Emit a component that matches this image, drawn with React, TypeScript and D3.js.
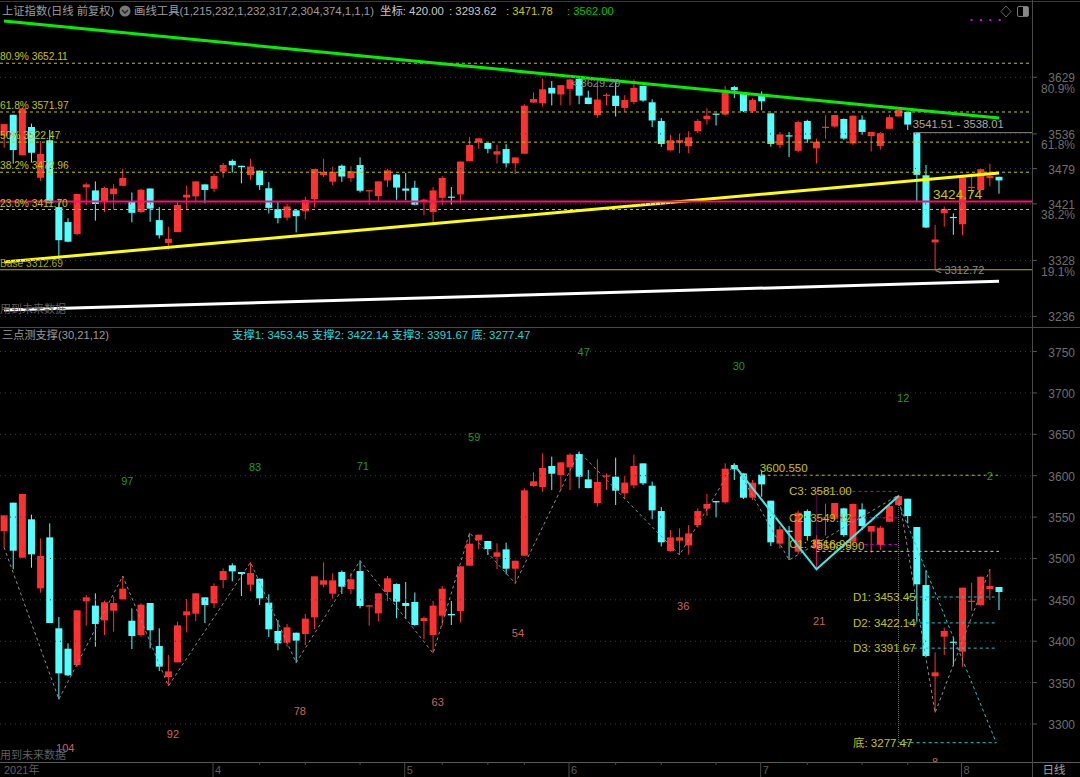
import { useEffect, useRef } from "react"
import * as d3 from "d3"

// candles (index points)
const opens = [3533.2,3567.4,3500.9,3547.3,3463.9,3525.5,3415.6,3391,3371.3,3448.2,3443,3425.2,3436.9,3450.6,3424.8,3407.5,3446.2,3394.2,3356.8,3374.5,3431.3,3433.3,3453,3445.8,3474,3491.7,3483.6,3468.3,3475.6,3446.6,3412.4,3398.3,3410.3,3408.7,3428.9,3468.3,3457.5,3483.6,3463.1,3484.8,3441.8,3433.7,3459.5,3469.1,3446.2,3447.4,3424.4,3407.5,3430.9,3432.9,3436.5,3491.3,3521.9,3521.1,3502.1,3511,3487.6,3503.4,3587.5,3586.3,3611.7,3600.8,3610,3626.2,3595.6,3567,3598.8,3598.8,3578.7,3588.3,3614.9,3587.9,3557.3,3509,3521.5,3515.8,3540.4,3560.1,3569.4,3567.8,3612.9,3602.8,3573.4,3601.2,3569.8,3517.9,3533.6,3508.2,3557.3,3512.2,3546.5,3548.1,3560.5,3520.3,3559.3,3532.4,3516.2,3544.4,3564.6,3572.2,3538,3467.9,3357.6,3405.5,3399.5,3387.4,3447.8,3443.8,3463.1,3465.5]
const closes = [3552.1,3509.4,3577.9,3505,3503,3422,3361.2,3358.8,3437.3,3453,3420.8,3447,3446.2,3463.5,3406.3,3444.2,3413.2,3369.3,3363.6,3419.2,3436.1,3457.9,3443.8,3466.7,3484.8,3484.4,3481.2,3482.4,3451.8,3414.4,3397.5,3416.8,3400.7,3427.3,3478.4,3473.6,3473.6,3465.9,3474.8,3442.6,3443.4,3457.9,3476,3447.8,3442.6,3419.6,3428,3443,3463.5,3431.3,3490.5,3517.9,3528.7,3511.4,3507.4,3487.6,3497.3,3582.3,3593.2,3609.3,3602.4,3616.1,3625.4,3598.8,3585.1,3592.4,3600.4,3581.9,3591.6,3611.7,3590.8,3558.1,3519.5,3525.5,3525.5,3530.3,3557.3,3565.8,3567.8,3608.5,3607.7,3573.4,3591.6,3589.5,3519.5,3535.2,3532,3555.3,3527.1,3523.1,3547.7,3567,3528.3,3565.8,3539.2,3539.2,3537.2,3563.4,3575.4,3551.3,3468.7,3382.1,3362.4,3412.4,3398.3,3464.7,3449,3478,3466.7,3459.5]
const highs = [3552.1,3567.4,3577.9,3552.9,3524.3,3542.4,3429.3,3397.5,3437.3,3455.8,3457.9,3449,3453.8,3478.8,3439.7,3445.8,3446.2,3415.6,3383.4,3423.6,3451,3457.9,3453,3469.9,3488,3494.1,3483.6,3495.3,3475.6,3456.7,3425.6,3420.8,3410.3,3432.9,3478.4,3495.3,3482,3485.6,3482.8,3497.3,3443.4,3457.9,3478.8,3469.9,3471.5,3459,3429.7,3448.6,3466.7,3448.6,3490.5,3531.1,3528.7,3521.1,3518.3,3519.1,3497.3,3584.7,3604,3627,3623,3616.1,3627,3629,3606.9,3619.7,3602.8,3621.8,3599.6,3625.4,3614.9,3592.8,3562.2,3534.4,3536.4,3540.4,3560.5,3577.9,3569.4,3614.9,3614.9,3602.8,3594.8,3606,3569.8,3539.2,3539.2,3557.7,3559.3,3528.3,3566.2,3567,3561.3,3566.6,3566.6,3539.2,3539.2,3567.4,3576.7,3572.2,3538,3484.8,3386.6,3416.4,3405.5,3464.7,3470.7,3478,3486.9,3465.5]
const lows = [3513.4,3486.9,3500.9,3488.9,3458.7,3422,3329.8,3358,3369.3,3418.8,3393.4,3407.5,3411.5,3450.6,3390.6,3405.5,3391.4,3364,3345.9,3374.5,3410.7,3424.4,3422,3440.1,3463.9,3472.4,3454.6,3460.7,3443.8,3405.1,3389,3393.4,3374.1,3395.4,3414.8,3465.1,3451.4,3457.1,3457.1,3439.7,3418.8,3424,3448.6,3427.7,3426.8,3418.8,3402.3,3385.4,3418.8,3419.6,3422.8,3491.3,3511.4,3504.2,3487.3,3480.8,3469.9,3503.4,3586.7,3580.7,3582.7,3582.7,3582.7,3584.7,3584.7,3562.6,3582.7,3564.6,3572.6,3584.7,3588.7,3547.3,3514.6,3508.2,3504.2,3504.6,3537.2,3551.3,3549.7,3566.2,3594.8,3571.8,3570.6,3574.6,3515,3512.2,3498.1,3505.4,3521.5,3487.3,3527.9,3546.5,3526.3,3517.5,3534.4,3507,3510.2,3544,3564.6,3542.4,3423.6,3381.3,3313.7,3383.4,3370.1,3369.3,3436.9,3443,3449.8,3437.7]

// upper pane
const fiboLabels = ["80.9% 3652.11", "61.8% 3571.97", "50% 3522.47", "38.2% 3472.96", "23.6% 3411.70"]
const fiboPrices = [3652.11, 3571.97, 3522.47, 3472.96, 3411.7]
const basePrice = 3312.69
const pinkPrice = 3424.74
const grayPrice = 3538.01
const trendIdx = [0, 109]
const greenTrend = [3721.5, 3562]
const yellowTrend = [3325.4, 3471.78]
const whiteTrend = [3246.5, 3293.62]
const topTicks = [3629, 3536, 3479, 3421, 3328, 3236]
const topPercents = ["80.9%", "61.8%", "38.2%", "19.1%"]
const topPercentPrices = [3612, 3519, 3404, 3311]

// lower pane
const lowTicks = [3750, 3700, 3650, 3600, 3550, 3500, 3450, 3400, 3350, 3300]
const zigIdx = [0, 6, 13, 18, 27, 32, 39, 47, 51, 56, 63, 74, 80, 86, 98, 102, 108]
const zigPrice = [3513.4, 3329.8, 3478.8, 3345.9, 3495.3, 3374.1, 3497.3, 3385.4, 3531.1, 3469.9, 3629, 3504.2, 3614.9, 3498.1, 3576.7, 3313.7, 3486.9]
const greenNums = ["47", "30", "12", "59", "97", "83", "71", "2"]
const greenIdx = [63.5, 80.5, 98.5, 51.5, 13.5, 27.5, 39.3, 108]
const greenPrice = [3750, 3733, 3694, 3647, 3593, 3611, 3612, 3600]
const redNums = ["104", "92", "78", "63", "54", "36", "21", "8"]
const redIdx = [6.7, 18.5, 32.4, 47.5, 56.3, 74.4, 89.3, 102]
const redPrice = [3271, 3288, 3316, 3327, 3410, 3443, 3425, 3254]
const cyanZigIdx = [80, 89, 98]
const cyanZigPrice = [3612.9, 3486.9, 3575.4]
const supportNames = ["D1: 3453.45", "D2: 3422.14", "D3: 3391.67", "底: 3277.47"]
const supportPrices = [3453.45, 3422.14, 3391.67, 3277.47]
const pressNames = ["C3: 3581.00", "C2: 3549.12", "C1: 3516.90"]
const pressPrices = [3581, 3549.12, 3516.9]

// time axis
const monthLabels = ["4", "5", "6", "7", "8"]
const monthIdx = [23, 44, 62, 83, 105]
const minorIdx = [28, 33, 39, 48, 53, 57, 67, 72, 78, 88, 94, 99]

const W = 1080
const H = 777
const AXIS_X = 1032
const FONT = '"Liberation Sans", "Noto Sans CJK SC", sans-serif'

const RED = "#ff3030"
const CYAN = "#55ffff"
const YEL = "#c4c400"
const GRAY = "#6e6e6e"

export default function App() {
  const svgRef = useRef<SVGSVGElement>(null)

  useEffect(() => {
    document.body.style.margin = "0"
    document.body.style.background = "#000"
    const svg = d3.select(svgRef.current)
    svg.selectAll("*").remove()
    svg.append("rect").attr("width", W).attr("height", H).attr("fill", "#000")

    const x = d3.scaleLinear().domain([0, 109]).range([4.1, 999])
    const yTop = d3.scaleLinear().domain([3629, 3236]).range([77.3, 316.4])
    const yLow = d3.scaleLinear().domain([3600, 3300]).range([475.7, 724])

    const defs = svg.append("defs")
    defs.append("clipPath").attr("id", "clipTop").append("rect").attr("width", AXIS_X).attr("height", 327)
    defs.append("clipPath").attr("id", "clipLow").append("rect").attr("y", 328).attr("width", AXIS_X).attr("height", 434)

    const text = (g: any, s: string, px: number, py: number, fill: string, size = 11, anchor = "start") =>
      g.append("text")
        .attr("x", px).attr("y", py)
        .attr("fill", fill)
        .attr("font-size", size)
        .attr("font-family", FONT)
        .attr("text-anchor", anchor)
        .text(s)

    const hline = (g: any, x1: number, x2: number, py: number, color: string, width = 1, dash: string | null = null) =>
      g.append("line")
        .attr("x1", x1).attr("x2", x2)
        .attr("y1", py).attr("y2", py)
        .attr("stroke", color)
        .attr("stroke-width", width)
        .attr("stroke-dasharray", dash)

    const grid = (g: any, ticks: number[], y: any) => {
      ticks.forEach((t) => {
        hline(g, 0, AXIS_X, y(t), "#3c3c3c", 1, "1,4")
        hline(g, AXIS_X, AXIS_X + 5, y(t), "#555", 1)
        text(g, String(t), 1075, y(t) + 5, GRAY, 12, "end")
      })
    }

    const candles = (g: any, y: any) => {
      opens.forEach((o, i) => {
        const c = closes[i]
        const color = c >= o ? RED : CYAN
        const top = y(Math.max(o, c))
        const bot = y(Math.min(o, c))
        g.append("line")
          .attr("x1", x(i)).attr("x2", x(i))
          .attr("y1", y(highs[i])).attr("y2", y(lows[i]))
          .attr("stroke", color)
        g.append("rect")
          .attr("x", x(i) - 3.5).attr("y", top)
          .attr("width", 7).attr("height", Math.max(bot - top, 1.2))
          .attr("fill", color)
      })
    }

    const polyline = (g: any, xs: number[], vs: number[], y: any, color: string, width: number, dash: string | null = null) => {
      const line = d3.line<number>().x((d) => x(d)).y((_, i) => y(vs[i]))
      g.append("path")
        .attr("d", line(xs))
        .attr("fill", "none")
        .attr("stroke", color)
        .attr("stroke-width", width)
        .attr("stroke-dasharray", dash)
    }

    // frame
    hline(svg, 0, W, 1.5, "#3a3a3a")
    hline(svg, 0, W, 327.5, "#4a4a4a")
    hline(svg, 0, W, 762.5, "#5a5a5a")
    svg.append("line").attr("x1", AXIS_X + 0.5).attr("x2", AXIS_X + 0.5).attr("y1", 0).attr("y2", H).attr("stroke", "#4a4a4a")

    // upper pane
    const top = svg.append("g").attr("clip-path", "url(#clipTop)")
    const topAxis = svg.append("g")
    grid(topAxis, topTicks, yTop)
    topPercents.forEach((p, i) => text(topAxis, p, 1075, yTop(topPercentPrices[i]) + 5, GRAY, 12, "end"))
    candles(top, yTop)
    fiboPrices.forEach((p) => hline(top, 0, AXIS_X, yTop(p), YEL, 1, "3,3"))
    hline(top, 0, AXIS_X, yTop(basePrice), "#b4b400", 1)
    hline(top, x(100) - 3, AXIS_X, yTop(grayPrice), "#8a8a8a", 1)
    polyline(top, trendIdx, whiteTrend, yTop, "#ffffff", 3)
    polyline(top, trendIdx, greenTrend, yTop, "#00f000", 3)
    polyline(top, trendIdx, yellowTrend, yTop, "#ffff00", 3)
    hline(top, 0, AXIS_X, yTop(pinkPrice), "#ff0a78", 2)
    fiboLabels.forEach((s, i) => text(top, s, 0, yTop(fiboPrices[i]) - 3, YEL, 10.2))
    text(top, "Base 3312.69", 0, yTop(basePrice) - 3, "#a8a800", 10.2)
    text(top, "用到未来数据", 0, 313, "#5e5e5e", 11)
    text(top, "3541.51 - 3538.01", x(100) - 4, 128, "#a8a8a8", 11.2)
    text(top, "<  3629.29", x(63) - 8, 87, "#8a8a8a", 11)
    text(top, "<    3312.72", x(102), 274, "#8a8a8a", 11)
    text(top, "3424.74", x(101) + 7, 199, "#c4c400", 13.6)

    // header
    text(svg, "上证指数(日线 前复权)", 2, 15, "#9c9c9c", 11.3)
    svg.append("circle").attr("cx", 125).attr("cy", 11).attr("r", 5.5).attr("fill", "#777")
    svg.append("path").attr("d", "M122 10 L125 13 L128 10").attr("fill", "none").attr("stroke", "#222").attr("stroke-width", 1.3)
    text(svg, "画线工具(1,215,232,1,232,317,2,304,374,1,1,1)", 134, 15, "#9c9c9c", 11.4)
    text(svg, "坐标: 420.00", 380, 15, "#c8c8c8", 11.4)
    text(svg, ": 3293.62", 449, 15, "#c8c8c8", 11.4)
    text(svg, ": 3471.78", 506, 15, "#c8c800", 11.2)
    text(svg, ": 3562.00", 567, 15, "#00c000", 11.2)
    svg.append("path").attr("d", "M1006 6 L1011 11.5 L1006 17 L1001 11.5 Z").attr("fill", "none").attr("stroke", "#666")
    svg.append("rect").attr("x", 1017.5).attr("y", 6.5).attr("width", 11).attr("height", 10).attr("rx", 1.5).attr("fill", "none").attr("stroke", "#777")
    svg.append("rect").attr("x", 1023).attr("y", 7).attr("width", 5).attr("height", 9).attr("fill", "#888")
    monthIdx.slice(0, 4).forEach((_, i) => {
      svg.append("rect").attr("x", 970.5 + i * 9.4).attr("y", 19).attr("width", 2).attr("height", 2).attr("fill", "#e000e0")
    })

    // lower pane
    text(svg, "三点测支撑(30,21,12)", 2, 339, "#9c9c9c", 11.2)
    text(svg, "支撑1: 3453.45  支撑2: 3422.14  支撑3: 3391.67  底: 3277.47", 232, 339, "#1fd8d8", 11.4)

    const low = svg.append("g").attr("clip-path", "url(#clipLow)")
    const lowAxis = svg.append("g")
    grid(lowAxis, lowTicks, yLow)
    candles(low, yLow)
    polyline(low, zigIdx, zigPrice, yLow, "#8c8c8c", 1, "3,3")

    greenNums.forEach((s, i) => text(low, s, x(greenIdx[i]), yLow(greenPrice[i]) + 4, "#1e9a1e", 11, "middle"))
    redNums.forEach((s, i) => text(low, s, x(redIdx[i]), yLow(redPrice[i]) + 4, "#c86464", 11, "middle"))

    // right side studies
    hline(low, x(83), x(108.9), yLow(3600.55), YEL, 1, "3,3")
    text(low, "3600.550", x(83) - 2, yLow(3600.55) - 3, YEL, 11.5)
    hline(low, x(89), x(109), yLow(3508.59), "#c8c8c8", 1, "3,3")

    pressPrices.forEach((p) => hline(low, x(89), x(98), yLow(p), "#c000c0", 1, "3,3"))
    low.append("line")
      .attr("x1", x(89)).attr("x2", x(89))
      .attr("y1", yLow(3581)).attr("y2", yLow(3486.9))
      .attr("stroke", "#a000a0").attr("stroke-dasharray", "1,1")
    pressNames.forEach((s, i) => text(low, s, x(86), yLow(pressPrices[i]) + 4, YEL, 11.5))
    text(low, "3508.590", x(89), yLow(3508.59) - 1, YEL, 11.5)

    polyline(low, cyanZigIdx, cyanZigPrice, yLow, "#40e8e8", 2)

    low.append("line")
      .attr("x1", x(98)).attr("x2", x(98))
      .attr("y1", yLow(3567)).attr("y2", yLow(3277.47))
      .attr("stroke", "#1c9c9c").attr("stroke-dasharray", "1,1")
    polyline(low, [98, 108.7], [3567, 3277.47], yLow, "#1cc8c8", 1, "3,3")

    supportPrices.forEach((p, i) => {
      hline(low, i === 3 ? x(98) : x(99), x(108.7), yLow(p), "#1cc8c8", 1, "3,3")
      text(low, supportNames[i], x(93), yLow(p) + 4, YEL, 11.5)
    })

    text(svg, "用到未来数据", 0, 759, "#5e5e5e", 11)

    // time axis
    text(svg, "2021年", 4, 774, "#5e5e5e", 11)
    monthLabels.forEach((s, i) => {
      const mx = x(monthIdx[i]) - 1
      svg.append("line").attr("x1", mx).attr("x2", mx).attr("y1", 762).attr("y2", H).attr("stroke", "#4a4a4a")
      text(svg, s, mx + 2, 774, "#5e5e5e", 11)
    })
    minorIdx.forEach((i) => {
      svg.append("line").attr("x1", x(i)).attr("x2", x(i)).attr("y1", 762).attr("y2", 765).attr("stroke", "#4a4a4a")
    })
    text(svg, "日线", 1054, 774, "#a0a0a0", 11.5, "middle")
  }, [])

  return <svg ref={svgRef} width={W} height={H} style={{ display: "block" }} />
}
